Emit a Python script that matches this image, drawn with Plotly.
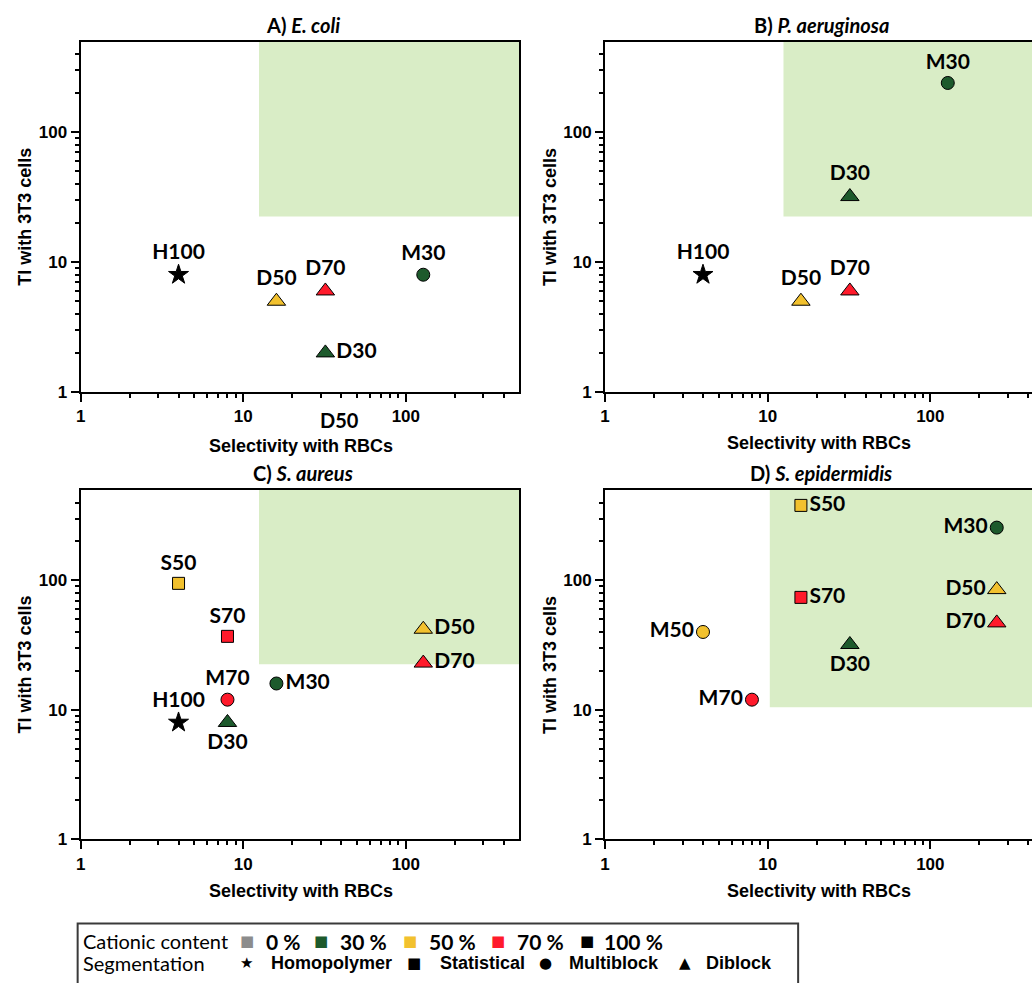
import plotly.graph_objects as go

# ---------------------------------------------------------------
# Data: selectivity with RBCs (x) and therapeutic index with 3T3 (y)
# Polymer code: letter = segmentation, number = cationic content (%)
# ---------------------------------------------------------------
ecoli_labels = ["H100", "D50", "D70", "M30", "D30"]
ecoli_sel = [4, 16, 32, 128, 32]
ecoli_ti = [8, 5, 6, 8, 2]

paer_labels = ["H100", "D50", "D70", "D30", "M30"]
paer_sel = [4, 16, 32, 32, 128]
paer_ti = [8, 5, 6, 32, 240]

saur_labels = ["H100", "S50", "S70", "M70", "D30", "M30", "D50", "D70"]
saur_sel = [4, 4, 8, 8, 8, 16, 128, 128]
saur_ti = [8, 95, 37, 12, 8, 16, 42, 23]

sepi_labels = ["M50", "M70", "S50", "S70", "D30", "M30", "D50", "D70"]
sepi_sel = [4, 8, 16, 16, 32, 256, 256, 256]
sepi_ti = [40, 12, 380, 74, 32, 256, 85, 47]

# selective window (lower-left corner) per organism
window_sel = [12.5, 12.5, 12.5, 10.3]
window_ti = [22.5, 22.5, 22.5, 10.5]

panel_titles = ["A) <i>E. coli</i>", "B) <i>P. aeruginosa</i>",
                "C) <i>S. aureus</i>", "D) <i>S. epidermidis</i>"]

major_ticks = [1, 10, 100]
major_text = ["1", "10", "100"]
minor_ticks = [2, 3, 4, 5, 6, 7, 8, 9, 20, 30, 40, 50, 60, 70, 80, 90, 200, 300, 400]

legend_content = ["0 %", "30 %", "50 %", "70 %", "100 %"]
legend_segment = ["Homopolymer", "Statistical", "Multiblock", "Diblock"]

# ---------------------------------------------------------------
# Styling
# ---------------------------------------------------------------
W, H = 1032, 983
GREEN = "#1D5A2C"
YELLOW = "#F2C12E"
RED = "#FF1A2B"
GREY = "#8C8C8C"
WINDOW_FILL = "#D9EDC6"

content_color = {"30": GREEN, "50": YELLOW, "70": RED, "100": "black"}
segment_symbol = {"H": "star", "S": "square", "M": "circle", "D": "triangle-up"}
symbol_size = {"star": 15, "square": 12, "circle": 13, "triangle-up": 16}

# label placement relative to each marker
label_pos = [
    ["top center", "top center", "top center", "top center", "middle right"],
    ["top center", "top center", "top center", "top center", "top center"],
    ["top center", "top center", "top center", "top center", "bottom center",
     "middle right", "middle right", "middle right"],
    ["middle left", "middle left", "middle right", "middle right", "bottom center",
     "middle left", "middle left", "middle left"],
]

LABEL_FONT = dict(family="Lato", size=21, color="black", weight="bold")
TICK_FONT = dict(family="Liberation Sans", size=17, color="black")
AXT_FONT = dict(family="Liberation Sans", size=18, color="black", weight="bold")
TITLE_FONT = dict(family="Lato", size=20, color="black", weight="bold")


def px(x):
    return x / W


def py(y):
    return 1 - y / H


panels = [
    (ecoli_labels, ecoli_sel, ecoli_ti),
    (paer_labels, paer_sel, paer_ti),
    (saur_labels, saur_sel, saur_ti),
    (sepi_labels, sepi_sel, sepi_ti),
]

# plot-area geometry (pixels)
left_x = [(76, 517, 2.699), (603, W, 2.625), (76, 517, 2.699), (603, W, 2.625)]
top_y = [(42, 396), (42, 396), (495, 848), (495, 848)]
title_cx = [299, 820, 299, 820]
xtitle_gap = [55, 52, 52, 52]

fig = go.Figure()
layout = {}
shapes = []
annotations = []

for i, (labels, sel, ti) in enumerate(panels):
    n = "" if i == 0 else str(i + 1)
    xa, ya = "x" + n, "y" + n
    x0, x1, xr = left_x[i]
    ytop, ybot = top_y[i]
    right_open = x1 >= W

    colors = [content_color[l[1:]] for l in labels]
    symbols = [segment_symbol[l[0]] for l in labels]
    sizes = [symbol_size[s] for s in symbols]

    fig.add_trace(go.Scatter(
        x=sel, y=ti, xaxis=xa, yaxis=ya, mode="markers+text",
        text=labels, textposition=label_pos[i], textfont=LABEL_FONT,
        marker=dict(color=colors, symbol=symbols, size=sizes, opacity=1,
                    line=dict(color="black", width=1)),
        showlegend=False, cliponaxis=False, hoverinfo="skip",
    ))

    common = dict(
        type="log", showline=True, linecolor="black", linewidth=2,
        ticks="outside", ticklen=8, tickwidth=2, tickcolor="black",
        tickmode="array", tickvals=major_ticks,
        ticktext=["<b>%s</b>" % t for t in major_text],
        tickfont=TICK_FONT, showgrid=False, zeroline=False,
        minor=dict(tickmode="array", tickvals=minor_ticks, ticks="outside",
                   ticklen=4, tickwidth=1.5, tickcolor="black", showgrid=False),
    )
    layout["xaxis" + n] = dict(common, domain=[px(x0), px(x1)], range=[0, xr],
                               anchor=ya, mirror=True)
    layout["yaxis" + n] = dict(common, domain=[py(ybot), py(ytop)], range=[0, 2.699],
                               anchor=xa, mirror=not right_open)

    # selective window
    shapes.append(dict(type="rect", xref=xa, yref=ya, layer="below",
                       x0=window_sel[i], x1=500, y0=window_ti[i], y1=500,
                       fillcolor=WINDOW_FILL, line=dict(width=0)))

    # panel title and axis titles
    cx = title_cx[i]
    annotations.append(dict(text=panel_titles[i], xref="paper", yref="paper",
                            x=px(cx), y=py(ytop - 17), showarrow=False,
                            font=TITLE_FONT, xanchor="center", yanchor="middle"))
    annotations.append(dict(text="Selectivity with RBCs", xref="paper", yref="paper",
                            x=px(cx - 2), y=py(ybot + xtitle_gap[i]), showarrow=False,
                            font=AXT_FONT, xanchor="center", yanchor="middle"))
    annotations.append(dict(text="TI with 3T3 cells", xref="paper", yref="paper",
                            x=px(x0 - 56), y=py((ytop + ybot) / 2), showarrow=False,
                            textangle=-90, font=AXT_FONT,
                            xanchor="center", yanchor="middle"))

# stray tag below the first panel's axis
annotations.append(dict(text="D50", xref="paper", yref="paper", x=px(336), y=py(424),
                        showarrow=False, font=dict(LABEL_FONT, size=20),
                        xanchor="center", yanchor="middle"))

# ---------------------------------------------------------------
# Legend box drawn with text glyphs
# ---------------------------------------------------------------
shapes.append(dict(type="rect", xref="paper", yref="paper",
                   x0=px(73), x1=px(797), y0=py(995), y1=py(933),
                   line=dict(color="#3a3a3a", width=2), fillcolor="rgba(0,0,0,0)"))

ROW1, ROW2 = 951, 973
HEAD_FONT = dict(family="Lato", size=20, color="black")
ITEM_FONT = dict(family="Lato", size=21, color="black", weight="bold")
SEG_FONT = dict(family="Liberation Sans", size=18, color="black", weight="bold")


def legend_text(text, x, y, font, anchor="left"):
    annotations.append(dict(text=text, xref="paper", yref="paper", x=px(x), y=py(y),
                            showarrow=False, font=font, xanchor=anchor,
                            yanchor="middle"))


legend_text("Cationic content", 76, ROW1, HEAD_FONT)
legend_text("Segmentation", 76, ROW2, HEAD_FONT)

swatch_colors = [GREY, GREEN, YELLOW, RED, "black"]
swatch_x = [243, 318, 407, 495, 585]
content_x = [260, 335, 424, 512, 600]
for c, sx, tx, t in zip(swatch_colors, swatch_x, content_x, legend_content):
    legend_text("■", sx, ROW1, dict(family="DejaVu Sans", size=15, color=c), "center")
    legend_text(t, tx, ROW1, ITEM_FONT)

seg_glyph = ["★", "■", "●", "▲"]
glyph_x = [243, 411, 543, 683]
seg_x = [265, 435, 565, 702]
for g, gx, tx, t in zip(seg_glyph, glyph_x, seg_x, legend_segment):
    legend_text(g, gx, ROW2, dict(family="DejaVu Sans", size=15, color="black"), "center")
    legend_text(t, tx, ROW2, SEG_FONT)

fig.update_layout(
    width=W, height=H,
    margin=dict(l=0, r=0, t=0, b=0),
    paper_bgcolor="white", plot_bgcolor="white",
    shapes=shapes, annotations=annotations,
    **layout,
)

fig.write_html("out.html")
